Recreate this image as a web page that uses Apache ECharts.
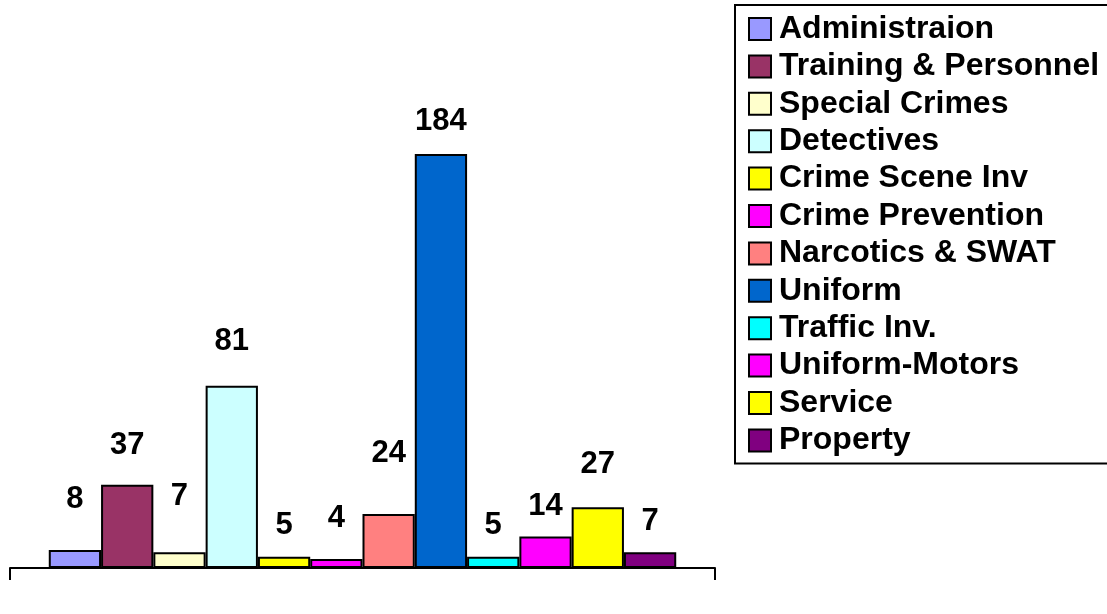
<!DOCTYPE html>
<html>
<head>
<meta charset="utf-8">
<title>Staffing by division</title>
<script src="https://cdn.jsdelivr.net/npm/echarts@6/dist/echarts.min.js"></script>
<style>
  html, body { margin: 0; padding: 0; background: #fff; }
  #bar { width: 1107px; height: 614px; }
</style>
</head>
<body>
<div id="bar"></div>
<script>
// 数据
var divisions = ['Administraion', 'Training & Personnel', 'Special Crimes', 'Detectives',
    'Crime Scene Inv', 'Crime Prevention', 'Narcotics & SWAT', 'Uniform',
    'Traffic Inv.', 'Uniform-Motors', 'Service', 'Property'];
var counts = [8, 37, 7, 81, 5, 4, 24, 184, 5, 14, 27, 7];

// 样式
var colors = ['#9999FF', '#993366', '#FFFFCC', '#CCFFFF', '#FFFF00', '#FF00FF',
    '#FF8080', '#0066CC', '#00FFFF', '#FF00FF', '#FFFF00', '#800080'];
var labelGaps = [37, 25, 42, 30, 17, 27, 47, 19, 17, 16, 29, 17];

var FONT = 'Arial, "Liberation Sans", sans-serif';

window.onload = function () {
    var chart = echarts.init(document.getElementById('bar'));

    var series = divisions.map(function (name, i) {
        return {
            name: name,
            type: 'bar',
            barGap: '0%',
            barCategoryGap: '11%',
            itemStyle: {
                color: colors[i],
                borderColor: '#000',
                borderWidth: 2
            },
            label: {
                show: true,
                position: 'top',
                distance: labelGaps[i],
                color: '#000',
                fontFamily: FONT,
                fontWeight: 'bold',
                fontSize: 31,
                lineHeight: 28
            },
            data: [counts[i]]
        };
    });

    chart.setOption({
        animation: false,
        legend: {
            orient: 'vertical',
            left: 735,
            top: 5,
            padding: [8, 24, 7, 13],  // 右边框在画面外
            itemWidth: 22,
            itemHeight: 22,
            itemGap: 5.4,
            borderColor: '#000',
            borderWidth: 2,
            icon: 'rect',
            itemStyle: {
                borderColor: '#000',
                borderWidth: 2
            },
            textStyle: {
                color: '#000',
                fontFamily: FONT,
                fontWeight: 'bold',
                fontSize: 32,
                lineHeight: 30,
                padding: [0, 0, 0, 3]
            },
            data: divisions
        },
        grid: {
            left: 10,
            right: 392,
            top: 118,
            bottom: 46
        },
        xAxis: {
            type: 'category',
            data: [''],
            axisLine: {
                lineStyle: { color: '#000', width: 2 }
            },
            axisTick: {
                show: true,
                length: 12,
                lineStyle: { color: '#000', width: 2 }
            },
            axisLabel: { show: false }
        },
        yAxis: {
            type: 'value',
            min: 0,
            max: 200,
            show: false
        },
        series: series
    });
};
</script>
</body>
</html>
